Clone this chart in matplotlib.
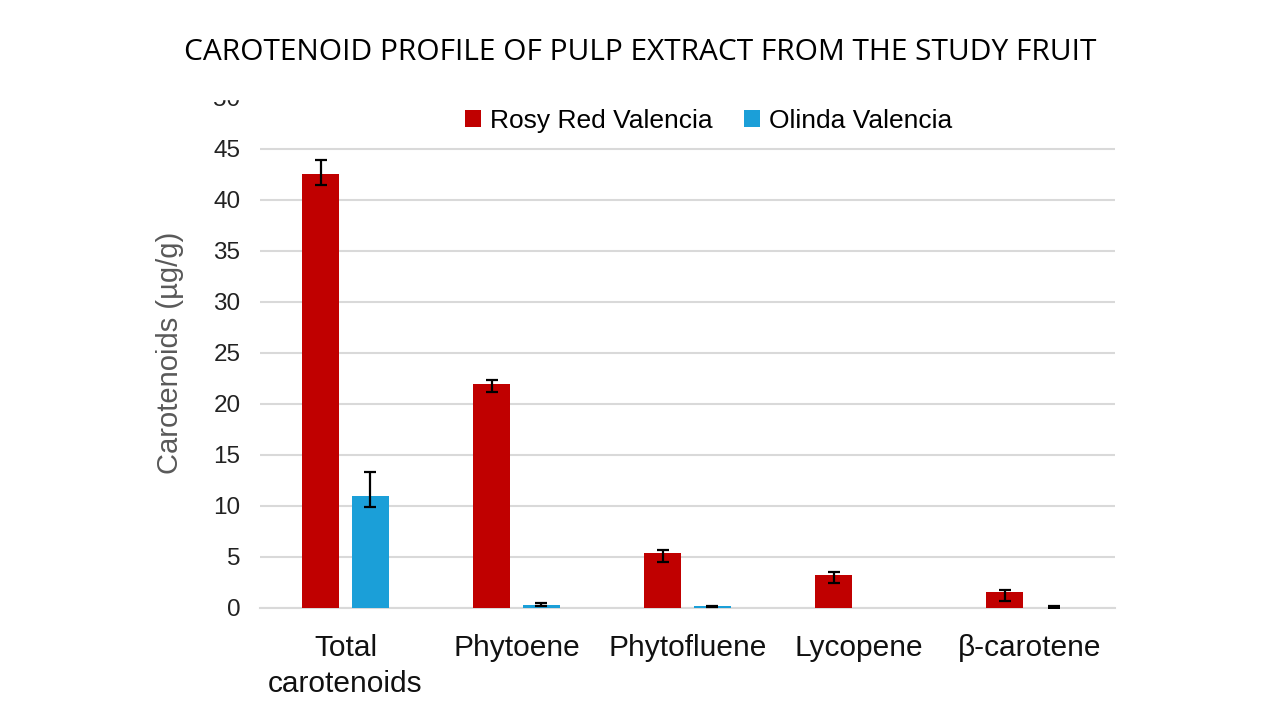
import numpy as np
import matplotlib
matplotlib.use('Agg')
import matplotlib.pyplot as plt
from matplotlib.patches import Rectangle

# values (µg/g)
categories = ['Total\ncarotenoids', 'Phytoene', 'Phytofluene', 'Lycopene', 'β-carotene']
rosy_red = [42.5, 22.0, 5.4, 3.2, 1.55]
rosy_err_low = [1.0, 0.8, 0.9, 0.8, 0.9]
rosy_err_high = [1.4, 0.35, 0.3, 0.3, 0.2]
olinda = [11.0, 0.3, 0.15, 0.0, 0.0]
# no error bar drawn for Olinda lycopene
olinda_err_low = [1.1, 0.1, 0.05, np.nan, 0.0]
olinda_err_high = [2.3, 0.15, 0.05, np.nan, 0.2]

series_names = ['Rosy Red Valencia', 'Olinda Valencia']
red = '#C00000'
blue = '#1B9FD8'
grey_txt = '#595959'

plt.rcParams['font.family'] = ['Liberation Sans', 'DejaVu Sans']

fig = plt.figure(figsize=(12.8, 7.2), dpi=100)
ax = fig.add_axes([0.2031, 0.1556, 0.668, 0.7083])

x = np.arange(len(categories))
w = 0.216
off = 0.145
err_kw = dict(ecolor='black', elinewidth=1.6, capsize=4.5, capthick=1.6)
ax.bar(x - off, rosy_red, w, color=red, label=series_names[0],
       yerr=[rosy_err_low, rosy_err_high], error_kw=err_kw, zorder=3)
ax.bar(x + off, olinda, w, color=blue, label=series_names[1],
       yerr=[olinda_err_low, olinda_err_high], error_kw=err_kw, zorder=3)

ax.set_xlim(-0.5, len(categories) - 0.5)
ax.set_ylim(0, 50)
ax.set_yticks(np.arange(0, 51, 5))
ax.yaxis.grid(True, color='#D9D9D9', linewidth=1.5, zorder=0)
ax.set_axisbelow(True)
for s in ['top', 'right', 'left']:
    ax.spines[s].set_visible(False)
ax.spines['bottom'].set_color('#D9D9D9')
ax.spines['bottom'].set_linewidth(1.5)

ax.set_xticks(x)
ax.set_xticklabels(categories, fontsize=21.5, color='#111111', linespacing=1.35)
ax.tick_params(axis='x', length=0, pad=19)
ax.tick_params(axis='y', length=0, pad=14, labelsize=17.5, labelcolor='#222222')
ax.set_ylabel('Carotenoids (µg/g)', fontsize=21, color=grey_txt, labelpad=21)

leg = ax.legend(loc='center', bbox_to_anchor=(0.525, 0.955), ncol=2, frameon=False,
                fontsize=19, handlelength=0.6, handleheight=0.6,
                handletextpad=0.35, columnspacing=1.2)

# the source image is cropped just above the top gridline
fig.add_artist(Rectangle((0, 1 - 98.5 / 720), 1, 14 / 720, transform=fig.transFigure,
                         color='white', zorder=10))

fig.text(0.5, 1 - 53 / 720, 'CAROTENOID PROFILE OF PULP EXTRACT FROM THE STUDY FRUIT',
         ha='center', va='center', fontsize=21.5, color='black', family=['Open Sans', 'DejaVu Sans'])

fig.savefig('out.png', dpi=100, facecolor='white')
